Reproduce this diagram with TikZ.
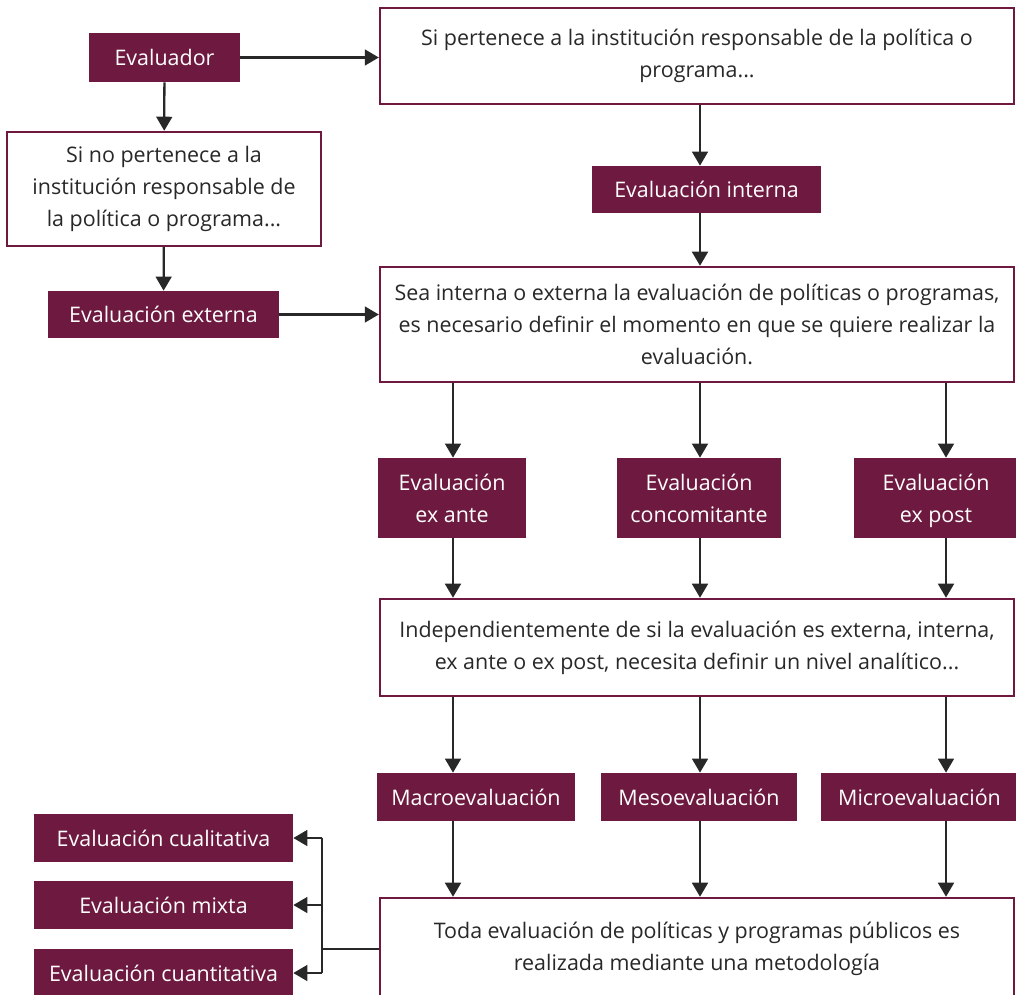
\documentclass[tikz,border=0pt]{standalone}
\usepackage{fontspec}
\setmainfont{Open Sans}
\usetikzlibrary{arrows.meta}

\definecolor{vino}{RGB}{110,26,64}
\definecolor{tinta}{RGB}{40,40,40}

\tikzset{
  fillbox/.style={fill=vino, text=white, inner sep=0pt, align=center},
  framebox/.style={draw=vino, line width=1.4pt, fill=white, text=tinta, inner sep=0pt, align=center},
  flecha/.style={draw=tinta, line width=1.3pt, -{Triangle[length=8pt,width=9pt]}},
  linea/.style={draw=tinta, line width=1.3pt}
}

\begin{document}
\begin{tikzpicture}[x=0.02cm, y=-0.02cm, font=\fontsize{12.2}{18.2}\selectfont]
        \useasboundingbox (0,0) rectangle (1016,994);

        % columnas de las flechas
        \coordinate (colA) at (453,0);
        \coordinate (colB) at (700,0);
        \coordinate (colC) at (946,0);
        \coordinate (split) at (322,946);

        \node[fillbox, minimum width=3.02cm, minimum height=0.98cm] (evaluador) at (164.5,57.5) {Evaluador};
        \node[framebox, minimum width=12.68cm, minimum height=1.92cm] (pertenece) at (697,56) {Si pertenece a la institución responsable de la política o\\programa...};
        \node[framebox, minimum width=6.28cm, minimum height=2.28cm] (nopertenece) at (164,189) {Si no pertenece a la\\institución responsable de\\la política o programa...};
        \node[fillbox, minimum width=4.6cm, minimum height=0.94cm] (interna) at (706.5,189.5) {Evaluación interna};
        \node[fillbox, minimum width=4.62cm, minimum height=0.94cm] (externa) at (163.5,314.5) {Evaluación externa};
        \node[framebox, minimum width=12.68cm, minimum height=2.3cm] (momento) at (697,324.5) {Sea interna o externa la evaluación de políticas o programas,\\es necesario definir el momento en que se quiere realizar la\\evaluación.};

        \node[fillbox, minimum width=2.96cm, minimum height=1.6cm] (exante) at (452,498) {Evaluación\\ex ante};
        \node[fillbox, minimum width=3.28cm, minimum height=1.6cm] (concomitante) at (699,498) {Evaluación\\concomitante};
        \node[fillbox, minimum width=3.28cm, minimum height=1.6cm, text depth=0pt] (expost) at (936,498) {Evaluación\\ex post};

        \node[framebox, minimum width=12.68cm, minimum height=1.94cm] (nivel) at (697,647.5) {Independientemente de si la evaluación es externa, interna,\\ex ante o ex post, necesita definir un nivel analítico...};

        \node[fillbox, minimum width=3.96cm, minimum height=0.96cm] (macro) at (476,797) {Macroevaluación};
        \node[fillbox, minimum width=3.92cm, minimum height=0.96cm] (meso) at (699,797) {Mesoevaluación};
        \node[fillbox, minimum width=3.94cm, minimum height=0.96cm] (micro) at (919.5,797) {Microevaluación};

        \node[framebox, minimum width=12.68cm, minimum height=2.04cm] (metodo) at (697,949) {Toda evaluación de políticas y programas públicos es\\realizada mediante una metodología};

        \node[fillbox, minimum width=5.18cm, minimum height=0.96cm] (cualitativa) at (163.5,838) {Evaluación cualitativa};
        \node[fillbox, minimum width=5.18cm, minimum height=0.96cm] (mixta) at (163.5,905) {Evaluación mixta};
        \node[fillbox, minimum width=5.18cm, minimum height=0.96cm] (cuantitativa) at (163.5,973) {Evaluación cuantitativa};

        \draw[flecha] (evaluador) -- (pertenece.west |- evaluador);
        \draw[flecha] (evaluador) -- (nopertenece);
        \draw[flecha] (nopertenece) -- (externa);
        \draw[flecha] (externa) -- (momento.west |- externa);
        \draw[flecha] (pertenece.south -| colB) -- (interna.north -| colB);
        \draw[flecha] (interna.south -| colB) -- (momento.north -| colB);

        \draw[flecha] (momento.south -| colA) -- (exante.north -| colA);
        \draw[flecha] (momento.south -| colB) -- (concomitante.north -| colB);
        \draw[flecha] (momento.south -| colC) -- (expost.north -| colC);
        \draw[flecha] (exante.south -| colA) -- (nivel.north -| colA);
        \draw[flecha] (concomitante.south -| colB) -- (nivel.north -| colB);
        \draw[flecha] (expost.south -| colC) -- (nivel.north -| colC);

        \draw[flecha] (nivel.south -| colA) -- (macro.north -| colA);
        \draw[flecha] (nivel.south -| colB) -- (meso.north -| colB);
        \draw[flecha] (nivel.south -| colC) -- (micro.north -| colC);
        \draw[flecha] (macro.south -| colA) -- (metodo.north -| colA);
        \draw[flecha] (meso.south -| colB) -- (metodo.north -| colB);
        \draw[flecha] (micro.south -| colC) -- (metodo.north -| colC);

        \draw[linea] (metodo.west) -- (split |- metodo.west);
        \draw[linea] (split |- cualitativa) -- (split |- cuantitativa);
        \draw[flecha] (split |- cualitativa) -- (cualitativa.east);
        \draw[flecha] (split |- mixta) -- (mixta.east);
        \draw[flecha] (split |- cuantitativa) -- (cuantitativa.east);
\end{tikzpicture}
\end{document}
